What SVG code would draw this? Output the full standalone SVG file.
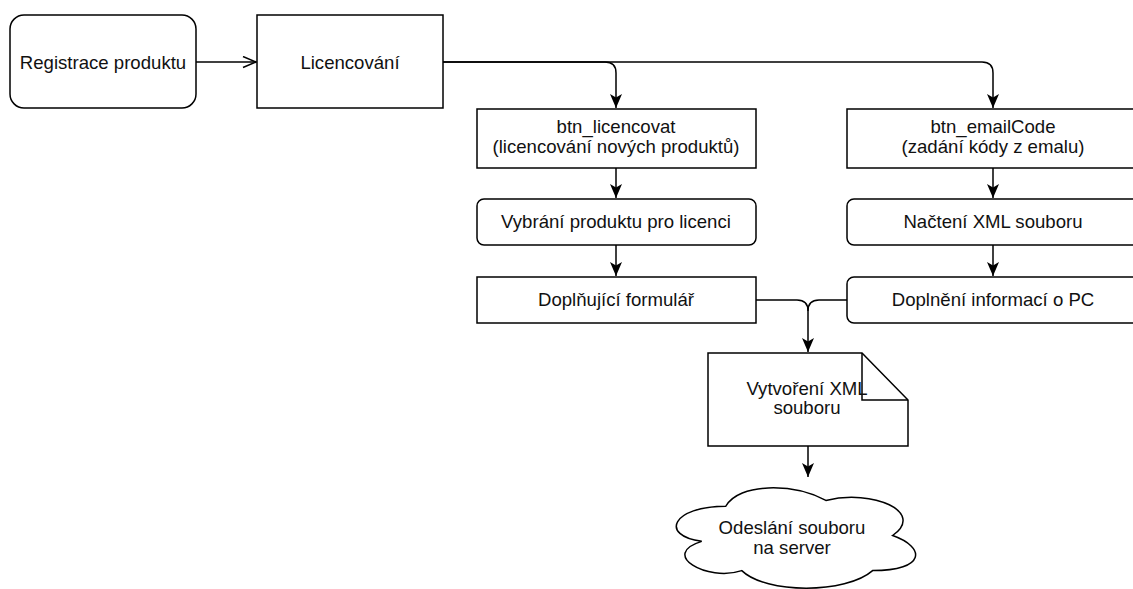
<svg xmlns="http://www.w3.org/2000/svg" width="1133" height="589" viewBox="0 0 1133 589">
<defs>
<style>
.box{fill:#fff;stroke:#000;stroke-width:1.5}
.t{font-family:"Liberation Sans",Arial,sans-serif;font-size:18.6px;fill:#111;text-anchor:middle}
.e{fill:none;stroke:#000;stroke-width:1.5}
</style>
<marker id="block" markerUnits="userSpaceOnUse" viewBox="0 0 14 12" markerWidth="14" markerHeight="12" refX="14" refY="6" orient="auto">
<path d="M0,0 L14,6 L0,12 L3.5,6 Z" fill="#000"/>
</marker>
<marker id="open" markerUnits="userSpaceOnUse" viewBox="-1 -1 15 13" markerWidth="15" markerHeight="13" refX="13" refY="5.5" orient="auto">
<path d="M0,0 L13,5.5 L0,11" fill="none" stroke="#000" stroke-width="1.5"/>
</marker>
</defs>
<rect width="1133" height="589" fill="#fff"/>
<g id="connectors">
<path class="e" d="M196,62 H256" marker-end="url(#open)"/>
<path class="e" d="M443,62 H605 Q616,62 616,73 V108" marker-end="url(#block)"/>
<path class="e" d="M443,62 H982 Q993,62 993,73 V108" marker-end="url(#block)"/>
<path class="e" d="M616,168 V198" marker-end="url(#block)"/>
<path class="e" d="M616,245 V276" marker-end="url(#block)"/>
<path class="e" d="M993,168 V198" marker-end="url(#block)"/>
<path class="e" d="M993,245 V276" marker-end="url(#block)"/>
<path class="e" d="M756,300 H797 Q808,300 808,311 V352" marker-end="url(#block)"/>
<path class="e" d="M847,300 H819 Q808,300 808,311"/>
<path class="e" d="M808,446 V477" marker-end="url(#block)"/>
</g>
<g id="registrace">
<rect class="box" x="10" y="15" width="186" height="93" rx="14"/>
<text class="t" x="103" y="68.5">Registrace produktu</text>
</g>
<g id="licencovani">
<rect class="box" x="257" y="15" width="186" height="93"/>
<text class="t" x="350" y="68.5">Licencování</text>
</g>
<g id="btn_licencovat">
<rect class="box" x="477" y="109" width="279" height="59"/>
<text class="t" x="616" y="133">btn_licencovat</text>
<text class="t" x="616" y="152.5">(licencování nových produktů)</text>
</g>
<g id="btn_emailCode">
<rect class="box" x="847" y="109" width="292" height="59"/>
<text class="t" x="993" y="133">btn_emailCode</text>
<text class="t" x="993" y="152.5">(zadání kódy z emalu)</text>
</g>
<g id="vybrani">
<rect class="box" x="477" y="199" width="279" height="46" rx="7"/>
<text class="t" x="616" y="228">Vybrání produktu pro licenci</text>
</g>
<g id="nacteni">
<rect class="box" x="847" y="199" width="292" height="46" rx="7"/>
<text class="t" x="993" y="228">Načtení XML souboru</text>
</g>
<g id="doplnujici">
<rect class="box" x="477" y="277" width="279" height="46"/>
<text class="t" x="616" y="306">Doplňující formulář</text>
</g>
<g id="doplneni">
<rect class="box" x="847" y="277" width="292" height="46" rx="7"/>
<text class="t" x="993" y="306">Doplnění informací o PC</text>
</g>
<g id="xml_doc">
<path class="box" d="M708,353 H862 L908,400 V446 H708 Z"/>
<path class="e" d="M862,353 V400 H908"/>
<text class="t" x="807" y="395">Vytvoření XML</text>
<text class="t" x="807" y="414">souboru</text>
</g>
<g id="cloud">
<path class="box" transform="translate(659,477) scale(267,117)" vector-effect="non-scaling-stroke" d="M0.25,0.25 C0.05,0.25 0,0.5 0.16,0.55 C0,0.66 0.18,0.9 0.31,0.8 C0.4,1 0.7,1 0.8,0.8 C1,0.8 1,0.6 0.875,0.5 C1,0.3 0.8,0.1 0.625,0.2 C0.5,0.05 0.3,0.05 0.25,0.25 Z"/>
<text class="t" x="792" y="534">Odeslání souboru</text>
<text class="t" x="792" y="553.5">na server</text>
</g>
</svg>
